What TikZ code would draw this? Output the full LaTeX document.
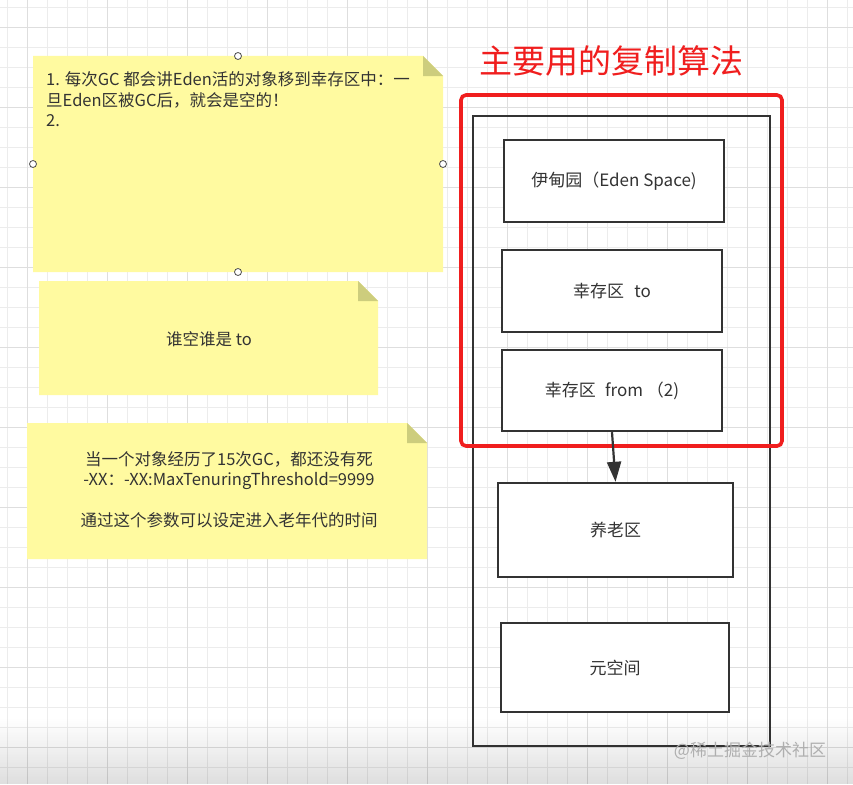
\documentclass[tikz,border=0pt]{standalone}
\usepackage{fontspec}
\setmainfont{Noto Sans CJK SC}
\usetikzlibrary{arrows.meta,fadings}
\definecolor{notefill}{RGB}{255,250,160}
\definecolor{notefold}{RGB}{205,205,125}
\definecolor{ink}{RGB}{51,51,51}
\definecolor{redline}{RGB}{240,30,30}
\definecolor{gridminor}{RGB}{236,236,236}
\definecolor{gridmajor}{RGB}{222,222,222}
\definecolor{wmark}{RGB}{175,175,175}
\begin{document}
\begin{tikzpicture}[x=1pt,y=-1pt,
  region/.style={draw=ink, line width=2.4pt, fill=white, text=ink, font=\fontsize{17}{20}\selectfont, inner sep=0pt},
  notetext/.style={text=ink, font=\fontsize{16.5}{20.5}\selectfont, inner sep=0pt},
  handle/.style={circle, draw=black!70, fill=white, line width=0.8pt, minimum size=7pt, inner sep=0pt},
  gridmin/.style={draw=gridminor, line width=0.8pt},
  gridmaj/.style={draw=gridmajor, line width=0.9pt}]
\useasboundingbox (0,0) rectangle (853,784);
\fill[white] (0,0) rectangle (853,784);
% grid
\foreach \k in {0,...,42} \draw[gridmin] ({7+20*\k},0) -- ({7+20*\k},784);
\foreach \k in {0,...,39} \draw[gridmin] (0,{7+20*\k}) -- (853,{7+20*\k});
\foreach \k in {0,...,10} \draw[gridmaj] ({27+80*\k},0) -- ({27+80*\k},784);
\foreach \k in {0,...,9} \draw[gridmaj] (0,{27+80*\k}) -- (853,{27+80*\k});

% note 1
\fill[notefill] (33,56) -- (423,56) -- (443,76) -- (443,272) -- (33,272) -- cycle;
\fill[notefold] (423,56) -- (443,76) -- (423,76) -- cycle;
\node[notetext, anchor=north west, align=left] (n1) at (46,71.5)
  {1. 每次GC 都会讲Eden活的对象移到幸存区中：一\\旦Eden区被GC后，就会是空的！\\2.};
\node[handle] (h1) at (238,56) {};
\node[handle] (h2) at (33,164) {};
\node[handle] (h3) at (443,164) {};
\node[handle] (h4) at (238,272) {};

% note 2
\fill[notefill] (39,281) -- (358,281) -- (378,301) -- (378,395) -- (39,395) -- cycle;
\fill[notefold] (358,281) -- (378,301) -- (358,301) -- cycle;
\node[notetext] (n2) at (209,339) {谁空谁是 to};

% note 3
\fill[notefill] (27,423) -- (407,423) -- (427,443) -- (427,559) -- (27,559) -- cycle;
\fill[notefold] (407,423) -- (427,443) -- (407,443) -- cycle;
\node[notetext, align=center, anchor=north] (n3) at (229,451)
  {当一个对象经历了15次GC，都还没有死\\-XX：-XX:MaxTenuringThreshold=9999\\[20.5pt]通过这个参数可以设定进入老年代的时间};

% title
\node[text=redline, font=\fontsize{33}{36}\selectfont, inner sep=0pt] (title) at (611,61) {主要用的复制算法};

% outer heap box
\node[draw=ink, line width=2.4pt, minimum width=297pt, minimum height=630pt, inner sep=0pt] (heap) at (621.5,431) {};

% regions
\node[region, minimum width=220pt, minimum height=82pt] (eden) at (614,181) {伊甸园（Eden Space)};
\node[region, minimum width=220pt, minimum height=82pt] (to) at (612,291) {幸存区\hspace{0.6em}to};
\node[region, minimum width=220pt, minimum height=81pt] (from) at (612,390.5) {幸存区\hspace{0.55em}from （2)};
\node[region, minimum width=235pt, minimum height=94pt] (old) at (615.5,530) {养老区};
\node[region, minimum width=228pt, minimum height=89pt] (meta) at (615,667.5) {元空间};

% red frame
\node[draw=redline, line width=3.6pt, rounded corners=5pt, minimum width=321pt, minimum height=351pt, inner sep=0pt] (redframe) at (621.5,270.5) {};

% arrow
\draw[ink, line width=2.2pt, -{Triangle[length=20pt,width=14pt]}] (from.south) -- (old.north);

% bottom shade
\fill[black, opacity=0.13, path fading=north] (0,718) rectangle (853,784);

% watermark
\node[text=wmark, font=\fontsize{17}{20}\selectfont, inner sep=0pt] (wm) at (750,751) {@稀土掘金技术社区};
\end{tikzpicture}
\end{document}
